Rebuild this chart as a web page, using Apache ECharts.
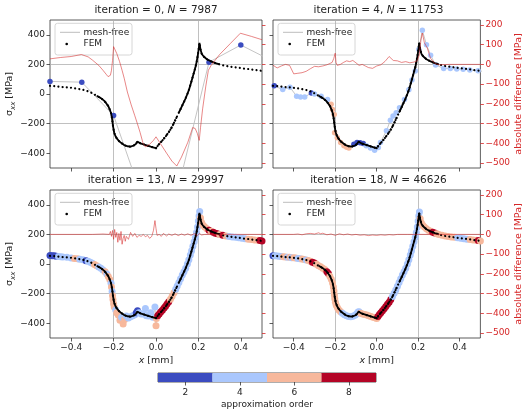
<!DOCTYPE html>
<html>
<head>
<meta charset="utf-8">
<script src="https://cdn.jsdelivr.net/npm/echarts@6/dist/echarts.min.js"></script>
<style>
html, body { margin: 0; padding: 0; background: #fff; }
#chart { width: 525px; height: 410px; }
</style>
</head>
<body>
<div id="chart"></div>
<script>
// ---- tick labels ----
const xTicks = [-0.4, -0.2, 0, 0.2, 0.4];
const stressTicks = [-400, -200, 0, 200, 400];
const diffTicks = [-500, -400, -300, -200, -100, 0, 100, 200];
const orderTicks = [2, 4, 6, 8];

// ---- colour classes of the approximation order ----
const orderBins = [1, 3, 5, 7, 9];
const orderColors = ['#3b4cc0', '#aac7fd', '#f7b89c', '#b40426'];

// ---- panel headers ----
const iterations = [0, 4, 13, 18];
const nodeCounts = [7987, 11753, 29997, 46626];

// ---- FEM reference solution [x mm, sigma_xx MPa] ----
const femPoints = [
  [-0.5, 55], [-0.48, 53], [-0.46, 50], [-0.44, 47], [-0.42, 45], [-0.40, 42], [-0.38, 38],
  [-0.36, 33], [-0.34, 27], [-0.32, 18], [-0.30, 5], [-0.28, -12], [-0.26, -28], [-0.245, -45],
  [-0.235, -62], [-0.225, -82], [-0.218, -105], [-0.212, -130], [-0.208, -160], [-0.205, -190],
  [-0.203, -215], [-0.2, -240], [-0.197, -262], [-0.192, -282], [-0.185, -300], [-0.176, -316],
  [-0.165, -330], [-0.15, -345], [-0.135, -353], [-0.12, -356], [-0.105, -348], [-0.095, -338],
  [-0.088, -322], [-0.08, -330], [-0.07, -336], [-0.055, -342], [-0.04, -349], [-0.025, -356],
  [-0.01, -362], [0.0, -366], [0.008, -350], [0.018, -333], [0.028, -318], [0.038, -300],
  [0.048, -282], [0.058, -262], [0.068, -240], [0.078, -215], [0.088, -185], [0.098, -155],
  [0.108, -125], [0.118, -95], [0.128, -65], [0.138, -35], [0.148, 0], [0.157, 35], [0.165, 75],
  [0.172, 110], [0.179, 145], [0.186, 180], [0.192, 220], [0.197, 260], [0.201, 300], [0.205, 345],
  [0.21, 300], [0.216, 270], [0.225, 253], [0.24, 235], [0.26, 220], [0.28, 209], [0.3, 200],
  [0.32, 192], [0.34, 187], [0.36, 183], [0.38, 179], [0.4, 175], [0.42, 171], [0.44, 168],
  [0.46, 164], [0.48, 160], [0.5, 156]
];

// ---- mesh-free solutions [x mm, sigma_xx MPa, approximation order] ----
const meshFree0 = [
  [-0.5, 85, 2], [-0.35, 80, 2], [-0.2, -145, 2], [-0.05, -763, 2], [0.1, -665, 2],
  [0.25, 215, 2], [0.4, 331, 2], [0.55, 222, 2]
];

const meshFree4 = [
  [-0.494, 55, 2], [-0.453, 30, 4], [-0.418, 45, 4], [-0.386, -15, 4], [-0.367, -20, 4],
  [-0.347, -20, 4], [-0.315, 7, 2], [-0.3, 0, 4], [-0.268, -15, 4], [-0.237, -38, 4],
  [-0.22, -70, 6], [-0.213, -104, 6], [-0.205, -138, 6], [-0.203, -262, 6], [-0.19, -295, 6],
  [-0.174, -327, 6], [-0.158, -350, 6], [-0.145, -360, 6], [-0.134, -365, 6], [-0.11, -340, 2],
  [-0.095, -328, 2], [-0.08, -330, 2], [-0.065, -335, 2], [-0.05, -350, 4], [-0.03, -365, 4],
  [-0.01, -380, 4], [0.008, -362, 4], [0.018, -327, 4], [0.047, -249, 4], [0.066, -178, 4],
  [0.079, -149, 4], [0.094, -127, 4], [0.11, -93, 4], [0.134, -38, 4], [0.155, 29, 4],
  [0.17, 95, 4], [0.186, 155, 4], [0.203, 300, 4], [0.22, 431, 4], [0.24, 333, 4],
  [0.26, 262, 4], [0.284, 196, 4], [0.323, 173, 4], [0.355, 173, 4], [0.386, 169, 4],
  [0.417, 167, 4], [0.449, 162, 4], [0.489, 157, 4], [0.52, 152, 4]
];

const meshFree13 = [
  [-0.5, 58, 2], [-0.49, 55, 2], [-0.48, 56, 2], [-0.47, 52, 2], [-0.46, 50, 4], [-0.45, 49, 4],
  [-0.44, 47, 4], [-0.42, 45, 4], [-0.40, 41, 4], [-0.385, 38, 6], [-0.37, 35, 6], [-0.36, 32, 4],
  [-0.345, 28, 4], [-0.33, 22, 2], [-0.32, 18, 4], [-0.31, 12, 4], [-0.30, 5, 4], [-0.29, -3, 6],
  [-0.28, -12, 6], [-0.27, -20, 4], [-0.26, -28, 4], [-0.25, -40, 4], [-0.24, -52, 6],
  [-0.232, -68, 4], [-0.225, -85, 6], [-0.218, -105, 6], [-0.212, -130, 4], [-0.21, -155, 6],
  [-0.207, -185, 4], [-0.205, -215, 6], [-0.203, -240, 6], [-0.2, -268, 6], [-0.197, -290, 6],
  [-0.19, -310, 4], [-0.185, -330, 6], [-0.178, -345, 6], [-0.17, -380, 6], [-0.162, -360, 4],
  [-0.155, -405, 6], [-0.148, -375, 6], [-0.14, -352, 4], [-0.13, -365, 4], [-0.12, -357, 4],
  [-0.11, -350, 4], [-0.1, -343, 4], [-0.093, -330, 2], [-0.087, -316, 2], [-0.08, -330, 4],
  [-0.07, -337, 4], [-0.06, -338, 4], [-0.05, -300, 4], [-0.045, -350, 4], [-0.035, -352, 4],
  [-0.025, -330, 4], [-0.015, -360, 4], [-0.005, -290, 4], [0.0, -418, 6], [0.002, -368, 6],
  [0.008, -350, 8], [0.015, -338, 8], [0.022, -325, 8], [0.03, -312, 8], [0.038, -298, 8],
  [0.045, -285, 8], [0.052, -270, 8], [0.06, -255, 8], [0.068, -238, 6], [0.076, -218, 6],
  [0.085, -195, 6], [0.093, -170, 4], [0.1, -148, 4], [0.108, -125, 4], [0.116, -100, 4],
  [0.124, -75, 4], [0.132, -52, 4], [0.14, -28, 4], [0.148, 0, 4], [0.155, 28, 4], [0.162, 60, 4],
  [0.168, 90, 4], [0.174, 120, 4], [0.18, 150, 4], [0.186, 180, 4], [0.191, 212, 4],
  [0.196, 250, 4], [0.2, 290, 4], [0.203, 325, 4], [0.206, 355, 4], [0.21, 310, 6],
  [0.215, 280, 6], [0.222, 262, 6], [0.23, 250, 6], [0.24, 238, 6], [0.25, 228, 8],
  [0.26, 222, 6], [0.27, 215, 8], [0.28, 208, 8], [0.29, 204, 8], [0.3, 200, 6], [0.315, 194, 8],
  [0.33, 190, 6], [0.345, 186, 4], [0.36, 183, 4], [0.375, 180, 4], [0.39, 177, 4],
  [0.405, 174, 4], [0.42, 171, 4], [0.435, 168, 6], [0.45, 165, 6], [0.465, 163, 6],
  [0.48, 160, 6], [0.49, 158, 8], [0.5, 156, 8]
];

const meshFree18 = [
  [-0.5, 56, 2], [-0.49, 55, 4], [-0.48, 54, 4], [-0.47, 52, 4], [-0.46, 50, 4], [-0.45, 49, 6],
  [-0.44, 47, 6], [-0.43, 46, 4], [-0.42, 45, 6], [-0.41, 43, 4], [-0.40, 42, 6], [-0.39, 40, 6],
  [-0.38, 38, 4], [-0.37, 36, 4], [-0.36, 33, 6], [-0.35, 30, 6], [-0.34, 27, 4], [-0.33, 23, 6],
  [-0.32, 18, 6], [-0.31, 12, 8], [-0.30, 6, 8], [-0.29, -2, 6], [-0.28, -12, 6], [-0.27, -19, 6],
  [-0.26, -28, 6], [-0.25, -38, 6], [-0.24, -52, 8], [-0.233, -65, 8], [-0.226, -82, 6],
  [-0.219, -103, 6], [-0.213, -128, 6], [-0.209, -155, 6], [-0.206, -182, 6], [-0.204, -210, 6],
  [-0.202, -235, 6], [-0.199, -258, 6], [-0.195, -278, 6], [-0.189, -295, 6], [-0.182, -310, 6],
  [-0.174, -322, 6], [-0.165, -333, 4], [-0.155, -343, 4], [-0.145, -350, 4], [-0.135, -355, 4],
  [-0.125, -356, 4], [-0.115, -353, 4], [-0.105, -347, 4], [-0.097, -338, 4], [-0.09, -325, 4],
  [-0.085, -322, 4], [-0.078, -332, 6], [-0.068, -337, 6], [-0.058, -341, 6], [-0.048, -345, 6],
  [-0.038, -350, 6], [-0.028, -355, 6], [-0.018, -360, 6], [-0.008, -364, 6], [0.0, -368, 6],
  [0.006, -355, 8], [0.013, -342, 8], [0.02, -330, 8], [0.028, -316, 8], [0.036, -302, 8],
  [0.044, -288, 8], [0.052, -272, 8], [0.06, -258, 8], [0.068, -240, 8], [0.076, -220, 4],
  [0.084, -198, 4], [0.092, -175, 4], [0.1, -150, 4], [0.108, -125, 4], [0.116, -100, 4],
  [0.124, -75, 4], [0.132, -52, 4], [0.14, -28, 4], [0.148, 0, 4], [0.155, 28, 4], [0.162, 60, 4],
  [0.168, 90, 4], [0.174, 120, 4], [0.18, 150, 4], [0.186, 180, 4], [0.191, 212, 4],
  [0.196, 250, 4], [0.2, 290, 4], [0.203, 325, 4], [0.206, 352, 4], [0.21, 305, 6],
  [0.215, 278, 6], [0.222, 262, 6], [0.23, 250, 6], [0.24, 238, 6], [0.25, 228, 6],
  [0.26, 222, 6], [0.27, 215, 8], [0.28, 209, 8], [0.29, 204, 6], [0.3, 200, 6], [0.315, 194, 6],
  [0.33, 190, 6], [0.345, 186, 6], [0.36, 183, 6], [0.375, 180, 6], [0.39, 177, 4],
  [0.405, 174, 4], [0.42, 171, 4], [0.435, 168, 4], [0.45, 165, 6], [0.465, 163, 6],
  [0.48, 160, 6], [0.49, 158, 8], [0.5, 156, 6]
];

// ---- absolute difference mesh-free minus FEM [x mm, MPa] ----
const diff0 = [
  [-0.5, 28], [-0.45, 35], [-0.4, 40], [-0.352, 50], [-0.32, 38], [-0.3, 22], [-0.27, -5],
  [-0.25, -30], [-0.235, -50], [-0.226, -62], [-0.215, -55], [-0.21, -30], [-0.205, 20],
  [-0.2, 90], [-0.195, 80], [-0.185, 55], [-0.172, 15], [-0.16, -30], [-0.15, -70],
  [-0.135, -140], [-0.117, -205], [-0.1, -260], [-0.088, -300], [-0.075, -345], [-0.061, -400],
  [-0.05, -418], [-0.03, -405], [-0.012, -385], [0.0, -367], [0.02, -400], [0.05, -450],
  [0.075, -490], [0.098, -515], [0.12, -470], [0.15, -395], [0.173, -320], [0.185, -325],
  [0.195, -350], [0.204, -385], [0.21, -320], [0.22, -225], [0.235, -110], [0.247, -30],
  [0.26, -5], [0.3, 50], [0.35, 105], [0.398, 158], [0.45, 142], [0.5, 125]
];

const diff4 = [
  [-0.5, -4], [-0.48, -18], [-0.46, -8], [-0.44, 0], [-0.42, -5], [-0.4, -48], [-0.38, -45],
  [-0.36, -42], [-0.34, -35], [-0.32, -22], [-0.3, -10], [-0.28, -12], [-0.26, -8], [-0.24, -2],
  [-0.225, 5], [-0.215, 10], [-0.207, 30], [-0.2, 57], [-0.196, 10], [-0.19, -5], [-0.175, 0],
  [-0.16, 10], [-0.145, 18], [-0.13, 14], [-0.115, 20], [-0.1, 8], [-0.085, -5], [-0.07, 0],
  [-0.055, -8], [-0.04, -16], [-0.02, -20], [0.0, -8], [0.02, -2], [0.04, 15], [0.06, 40],
  [0.08, 20], [0.1, 18], [0.12, 10], [0.14, 14], [0.16, 8], [0.18, 12], [0.195, 18],
  [0.205, 47], [0.213, 120], [0.22, 159], [0.23, 110], [0.244, 83], [0.26, 30], [0.28, 5],
  [0.3, -2], [0.35, 0], [0.5, 0]
];

const diff13 = [
  [-0.5, 0], [-0.3, 0], [-0.25, 2], [-0.22, 0], [-0.215, 15], [-0.21, -10], [-0.205, 20],
  [-0.2, -25], [-0.195, 25], [-0.19, -15], [-0.185, 10], [-0.18, -40], [-0.175, 5], [-0.17, -30],
  [-0.165, 15], [-0.16, -50], [-0.155, -20], [-0.15, -5], [-0.145, -35], [-0.14, -10],
  [-0.13, -25], [-0.12, 10], [-0.11, -10], [-0.1, 5], [-0.09, -15], [-0.08, -5], [-0.07, -10],
  [-0.06, 0], [-0.05, -12], [-0.04, -5], [-0.03, -20], [-0.02, -10], [-0.012, 20],
  [-0.005, 70], [0.0, 30], [0.005, -5], [0.015, 0], [0.025, -10], [0.035, 5], [0.05, -8],
  [0.06, 2], [0.075, -5], [0.09, 3], [0.105, -6], [0.12, 2], [0.135, -4], [0.15, 3],
  [0.165, -5], [0.18, 4], [0.195, -6], [0.205, 5], [0.215, -3], [0.23, 0], [0.5, 0]
];

const diff18 = [
  [-0.5, 0], [-0.4, 0], [-0.38, 2], [-0.36, -2], [-0.34, 3], [-0.32, 5], [-0.3, 2], [-0.28, 8],
  [-0.27, 3], [-0.26, 6], [-0.24, -2], [-0.22, 2], [-0.2, -5], [-0.18, 3], [-0.16, -2],
  [-0.14, 2], [-0.12, -3], [-0.1, 0], [-0.08, -4], [-0.06, -2], [-0.04, -6], [-0.02, -3],
  [0.0, -5], [0.02, -2], [0.04, -4], [0.06, -1], [0.08, -3], [0.1, 0], [0.15, 0], [0.2, 0],
  [0.5, 0]
];

const meshFreeSets = [meshFree0, meshFree4, meshFree13, meshFree18];
const diffSets = [diff0, diff4, diff13, diff18];

// ---- drawing ----
const FONT = "'DejaVu Sans', sans-serif";
const TEXT = '#222';
const SPINE = '#333';
const GRIDLINE = '#b0b0b0';
const RED = '#d62728';

const panelLeft = [50, 273, 50, 273];
const panelTop = [20, 20, 190, 190];
const panelWidth = [212, 211, 212, 211];
const panelHeight = 148;
const markerSize = [5.5, 5.5, 7, 7];

function colorOfOrder(o) {
  for (let k = 0; k < orderColors.length; k++) {
    if (o < orderBins[k + 1]) return orderColors[k];
  }
  return orderColors[orderColors.length - 1];
}

function fmt(v, digits) {
  if (Math.abs(v) < 1e-9) v = 0;
  return v.toFixed(digits).replace('-', '\u2212');
}

const grids = [];
const xAxes = [];
const yAxes = [];
const series = [];
const titles = [];
const graphics = [];

for (let i = 0; i < 4; i++) {
  const isLeft = i % 2 === 0;
  const isBottom = i >= 2;

  grids.push({
    left: panelLeft[i], top: panelTop[i], width: panelWidth[i], height: panelHeight,
    show: true, borderColor: SPINE, borderWidth: 0.8, backgroundColor: 'transparent'
  });

  xAxes.push({
    type: 'value', gridIndex: i, min: -0.5, max: 0.5, interval: 0.1,
    axisLine: { show: false, onZero: false },
    axisTick: { show: true, customValues: xTicks, length: 3.5, lineStyle: { color: SPINE, width: 0.8 } },
    axisLabel: {
      show: isBottom, customValues: xTicks, margin: 5, fontSize: 9, color: TEXT, fontFamily: FONT,
      formatter: v => fmt(v, 1)
    },
    splitLine: { show: true, lineStyle: { color: ['rgba(0,0,0,0)', GRIDLINE], width: 0.8 } },
    name: isBottom ? '{i|x}{n| [mm]}' : '',
    nameLocation: 'middle', nameGap: 18,
    nameTextStyle: {
      rich: {
        i: { fontSize: 9.5, fontStyle: 'italic', color: TEXT, fontFamily: FONT },
        n: { fontSize: 9.5, color: TEXT, fontFamily: FONT }
      }
    }
  });

  // stress axis (left)
  yAxes.push({
    type: 'value', gridIndex: i, position: 'left', min: -500, max: 500, interval: 100,
    axisLine: { show: false, onZero: false },
    axisTick: { show: true, customValues: stressTicks, length: 3.5, lineStyle: { color: SPINE, width: 0.8 } },
    axisLabel: {
      show: isLeft, customValues: stressTicks, margin: 5, fontSize: 9, color: TEXT, fontFamily: FONT,
      formatter: v => fmt(v, 0)
    },
    splitLine: { show: true, lineStyle: { color: ['rgba(0,0,0,0)', GRIDLINE], width: 0.8 } },
    name: isLeft ? '{s|\u03c3}{sub|xx}{s| [MPa]}' : '',
    nameLocation: 'middle', nameGap: 31, nameRotate: 90,
    nameTextStyle: {
      rich: {
        s: { fontSize: 9.5, color: TEXT, fontFamily: FONT, lineHeight: 14, verticalAlign: 'middle' },
        sub: { fontSize: 7, color: TEXT, fontFamily: FONT, fontStyle: 'italic', lineHeight: 9, verticalAlign: 'bottom' }
      }
    }
  });

  // difference axis (right)
  yAxes.push({
    type: 'value', gridIndex: i, position: 'right', min: -525, max: 225, interval: 25,
    axisLine: { show: false, onZero: false },
    axisTick: { show: true, customValues: diffTicks, length: 3.5, lineStyle: { color: RED, width: 0.8 } },
    axisLabel: {
      show: !isLeft, customValues: diffTicks, margin: 5, fontSize: 9, color: RED, fontFamily: FONT,
      formatter: v => fmt(v, 0)
    },
    splitLine: { show: false },
    name: isLeft ? '' : 'absolute difference [MPa]',
    nameLocation: 'middle', nameGap: 27, nameRotate: 90,
    nameTextStyle: { fontSize: 9.5, color: RED, fontFamily: FONT }
  });

  const mesh = meshFreeSets[i];
  series.push({
    type: 'line', name: 'mesh-free', xAxisIndex: i, yAxisIndex: 2 * i,
    data: mesh.map(p => [p[0], p[1]]), symbol: 'none', silent: true,
    lineStyle: { color: '#bdbdbd', width: 0.9 }, z: 2
  });
  series.push({
    type: 'scatter', xAxisIndex: i, yAxisIndex: 2 * i, data: mesh, symbolSize: markerSize[i],
    itemStyle: { color: p => colorOfOrder(p.data[2]), opacity: 1 }, silent: true, z: 3
  });
  // FEM nodes: dotted where the mesh is coarse, continuous where it is refined
  series.push({
    type: 'line', name: 'FEM', xAxisIndex: i, yAxisIndex: 2 * i, data: femPoints, symbol: 'none',
    silent: true, lineStyle: { color: '#000', width: 2.2, type: [0.01, 4.2], cap: 'round' }, z: 4
  });
  series.push({
    type: 'line', xAxisIndex: i, yAxisIndex: 2 * i, symbol: 'none', silent: true,
    data: femPoints.filter(p => p[0] >= 0 && p[0] <= 0.1),
    lineStyle: { color: '#000', width: 2.1, type: [0.01, 2.6], cap: 'round' }, z: 4
  });
  series.push({
    type: 'line', xAxisIndex: i, yAxisIndex: 2 * i, symbol: 'none', silent: true,
    data: femPoints.filter(p => p[0] >= -0.28 && p[0] <= 0),
    lineStyle: { color: '#000', width: 1.8 }, z: 4
  });
  series.push({
    type: 'line', xAxisIndex: i, yAxisIndex: 2 * i, symbol: 'none', silent: true,
    data: femPoints.filter(p => p[0] >= 0.1 && p[0] <= 0.3),
    lineStyle: { color: '#000', width: 1.8 }, z: 4
  });
  series.push({
    type: 'line', xAxisIndex: i, yAxisIndex: 2 * i + 1, data: diffSets[i], symbol: 'none',
    silent: true, lineStyle: { color: RED, width: 0.8, opacity: 0.7 }, z: 5
  });

  const cx = panelLeft[i] + panelWidth[i] / 2;
  titles.push({
    text: '{a|iteration = ' + iterations[i] + ', }{n|N}{a| = ' + nodeCounts[i] + '}',
    left: cx, top: panelTop[i] - 15, textAlign: 'center', padding: 0,
    textStyle: {
      fontWeight: 'normal',
      rich: {
        a: { fontSize: 10.5, color: TEXT, fontFamily: FONT, fontWeight: 'normal' },
        n: { fontSize: 10.5, color: TEXT, fontFamily: FONT, fontStyle: 'italic', fontWeight: 'normal' }
      }
    }
  });

  graphics.push({
    type: 'group', x: panelLeft[i] + 5, y: panelTop[i] + 3.3, z: 100,
    children: [
      { type: 'rect', shape: { x: 0, y: 0, width: 77, height: 31.7, r: 2.5 },
        style: { fill: 'rgba(255,255,255,0.8)', stroke: '#cccccc', lineWidth: 0.8 } },
      { type: 'line', shape: { x1: 5, y1: 9, x2: 25, y2: 9 },
        style: { stroke: '#bdbdbd', lineWidth: 1 } },
      { type: 'text', x: 28.5, y: 9,
        style: { text: 'mesh-free', fontSize: 9, fill: TEXT, fontFamily: FONT, verticalAlign: 'middle' } },
      { type: 'circle', shape: { cx: 11.7, cy: 20.7, r: 1.3 }, style: { fill: '#000' } },
      { type: 'text', x: 28.5, y: 20.7,
        style: { text: 'FEM', fontSize: 9, fill: TEXT, fontFamily: FONT, verticalAlign: 'middle' } }
    ]
  });
}

// ---- colour bar for the approximation order ----
grids.push({
  left: 158, top: 373, width: 218, height: 10.5,
  show: true, borderColor: SPINE, borderWidth: 0.8, backgroundColor: 'transparent'
});
xAxes.push({
  type: 'value', gridIndex: 4, min: orderBins[0], max: orderBins[orderBins.length - 1], interval: 1,
  axisLine: { show: false, onZero: false },
  axisTick: { show: true, customValues: orderTicks, length: 3.5, lineStyle: { color: SPINE, width: 0.8 } },
  axisLabel: { customValues: orderTicks, margin: 6, fontSize: 9, color: TEXT, fontFamily: FONT },
  splitLine: { show: false },
  name: 'approximation order', nameLocation: 'middle', nameGap: 18,
  nameTextStyle: { fontSize: 9, color: TEXT, fontFamily: FONT }
});
yAxes.push({ type: 'value', gridIndex: 4, min: 0, max: 1, show: false });

const barSegments = [];
for (let k = 0; k < orderColors.length; k++) {
  barSegments.push([orderBins[k], orderBins[k + 1], (orderBins[k] + orderBins[k + 1]) / 2]);
}
series.push({
  type: 'custom', coordinateSystem: 'cartesian2d', xAxisIndex: 4, yAxisIndex: 8,
  data: barSegments, encode: { x: [0, 1], y: 2 }, silent: true, z: 1,
  renderItem: (params, api) => {
    const a = api.coord([api.value(0), 1]);
    const b = api.coord([api.value(1), 0]);
    return {
      type: 'rect',
      shape: { x: a[0], y: a[1], width: b[0] - a[0], height: b[1] - a[1] },
      style: { fill: colorOfOrder(api.value(2)) }
    };
  }
});

const chart = echarts.init(document.getElementById('chart'), null, { renderer: 'canvas' });
chart.setOption({
  animation: false,
  backgroundColor: '#ffffff',
  textStyle: { fontFamily: FONT },
  title: titles,
  grid: grids,
  xAxis: xAxes,
  yAxis: yAxes,
  series: series,
  graphic: graphics
});
</script>
</body>
</html>
